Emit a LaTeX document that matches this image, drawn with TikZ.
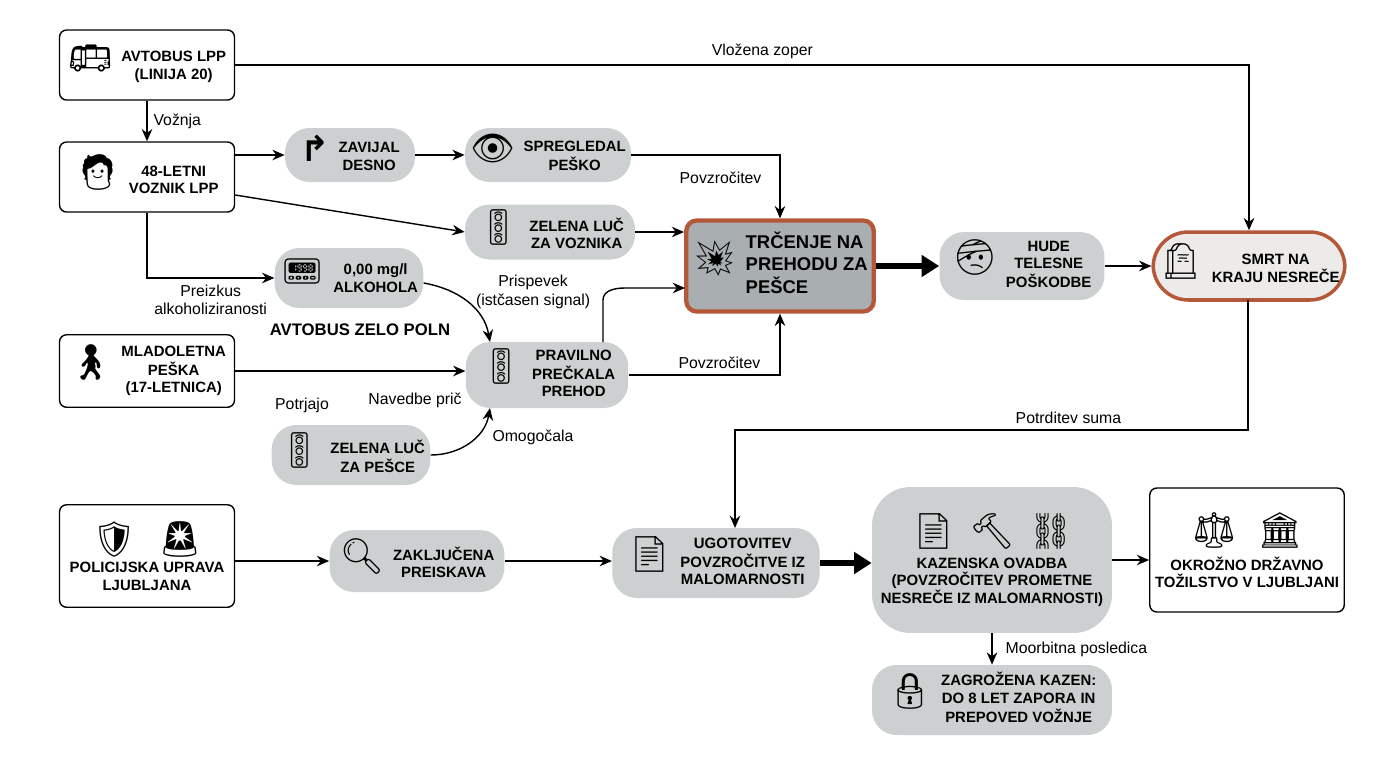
\documentclass[tikz,border=0pt]{standalone}
\usepackage{fontspec}
\setmainfont{Liberation Sans}
\newfontfamily\emo{Noto Emoji}
\newfontfamily\dejavu{DejaVu Sans}
\usetikzlibrary{arrows.meta}
\definecolor{pillgray}{HTML}{CDD0D0}
\definecolor{hitgray}{HTML}{A9AFB0}
\definecolor{rust}{HTML}{B5583A}
\definecolor{paleg}{HTML}{EDEBEA}
\newcommand{\ico}[1]{{\emo\fontsize{20}{20}\selectfont #1}}
\newcommand{\lbl}[2]{\ico{#1}\hspace{5pt}\begin{tabular}{@{}c@{}}#2\end{tabular}}
\newcommand{\lbll}[2]{\ico{#1}\hspace{5pt}\begin{tabular}{@{}l@{}}#2\end{tabular}}
\tikzset{
  pill/.style={fill=pillgray, rounded corners=14pt, inner sep=3pt, font=\bfseries\fontsize{8.5}{10}\selectfont},
  wbox/.style={draw=black, thick, fill=white, rounded corners=4pt, inner sep=3pt, font=\bfseries\fontsize{8.5}{10}\selectfont},
  lab/.style={font=\fontsize{9}{10.5}\selectfont, align=center},
  arr/.style={-{Stealth[length=7pt,width=6pt]}, thick},
  fat/.style={-{Triangle[length=10pt,width=12pt]}, line width=3.5pt}
}
\begin{document}
\begin{tikzpicture}[x=0.02cm, y=-0.02cm]
\useasboundingbox (0,0) rectangle (1376,768);
% sources
\node [wbox, minimum width=3.5cm, minimum height=1.4cm] (bus) at (147,65) {\lbl{🚌}{AVTOBUS LPP\\(LINIJA 20)}};
\node [wbox, minimum width=3.5cm, minimum height=1.4cm] (driver) at (147,177) {\lbl{🧑}{48-LETNI\\VOZNIK LPP}};
\node [wbox, minimum width=3.5cm, minimum height=1.45cm] (peska) at (147,371) {\lbl{🚶}{MLADOLETNA\\PEŠKA\\(17-LETNICA)}};
\node [wbox, minimum width=3.5cm, minimum height=2.05cm, align=center] (police) at (147,556) {\ico{🛡}\hspace{12pt}\ico{🚨}\\[2pt] POLICIJSKA UPRAVA\\LJUBLJANA};
% driver branch
\node [pill, minimum width=2.6cm, minimum height=1.08cm] (turn) at (350,155) {{\dejavu\fontsize{20}{20}\selectfont ↱}\hspace{5pt}\begin{tabular}{@{}c@{}}ZAVIJAL\\DESNO\end{tabular}};
\node [pill, minimum width=3.3cm, minimum height=1.08cm] (miss) at (548,155) {\lbl{👁}{SPREGLEDAL\\PEŠKO}};
\node [pill, minimum width=3.4cm, minimum height=1.1cm] (greend) at (550,232) {\lbl{🚦}{ZELENA LUČ\\ZA VOZNIKA}};
\node [pill, minimum width=2.85cm, minimum height=1.2cm] (alco) at (349,278) {\lbl{📟}{0,00 mg/l\\ALKOHOLA}};
\node [font=\bfseries\fontsize{9.5}{11}\selectfont] (full) at (360,330) {AVTOBUS ZELO POLN};
\node [pill, minimum width=3.25cm, minimum height=1.32cm] (cross) at (547,375) {\lbl{🚦}{PRAVILNO\\PREČKALA\\PREHOD}};
\node [pill, minimum width=3.05cm, minimum height=1.2cm] (greenp) at (351,455) {\lbl{🚦}{ZELENA LUČ\\ZA PEŠCE}};
% crash and outcome
\node [draw=rust, line width=2.5pt, fill=hitgray, rounded corners=6pt, minimum width=3.75cm, minimum height=1.82cm, font=\bfseries\fontsize{10.5}{12.5}\selectfont] (crash) at (780,266) {\lbll{💥}{TRČENJE NA\\PREHODU ZA\\PEŠCE}};
\node [pill, minimum width=3.3cm, minimum height=1.36cm] (injury) at (1022,266) {\lbl{🤕}{HUDE\\TELESNE\\POŠKODBE}};
\node [pill, fill=paleg, draw=rust, line width=2pt, rounded corners=20pt, minimum width=3.55cm, minimum height=1.36cm] (death) at (1249,266) {\lbl{🪦}{SMRT NA\\KRAJU NESREČE}};
% procedure
\node [pill, minimum width=3.5cm, minimum height=1.24cm] (probe) at (417,561) {\lbl{🔍}{ZAKLJUČENA\\PREISKAVA}};
\node [pill, minimum width=4.15cm, minimum height=1.4cm] (guilt) at (716,563) {\lbl{📄}{UGOTOVITEV\\POVZROČITVE IZ\\MALOMARNOSTI}};
\node [pill, rounded corners=22pt, minimum width=4.8cm, minimum height=2.92cm, align=center] (charge) at (992,560) {\ico{📄}\hspace{8pt}\ico{🔨}\hspace{8pt}\ico{⛓}\\[4pt] KAZENSKA OVADBA\\(POVZROČITEV PROMETNE\\NESREČE IZ MALOMARNOSTI)};
\node [wbox, minimum width=3.55cm, minimum height=2.48cm, align=center] (court) at (1247,550) {\ico{⚖}\hspace{12pt}\ico{🏛}\\[4pt] OKROŽNO DRŽAVNO\\TOŽILSTVO V LJUBLJANI};
\node [pill, minimum width=4.8cm, minimum height=1.4cm] (penalty) at (992,700) {\lbl{🔒}{ZAGROŽENA KAZEN:\\DO 8 LET ZAPORA IN\\PREPOVED VOŽNJE}};
% connectors
\draw [arr] (bus.east) -| node [lab, pos=0.26, above] {Vložena zoper} (death.north);
\draw [arr] (bus) -- node [lab, right] {Vožnja} (driver);
\draw [arr] (driver.east |- turn) -- (turn);
\draw [arr] (turn) -- (miss);
\draw [arr] (miss.east) -| node [lab, pos=0.3, below=6pt] {Povzročitev} (crash.north);
\draw [arr] (driver.east) ++(0,18) -- (greend.west);
\draw [arr] (greend.east) -- (greend.east -| crash.west);
\draw [arr] (driver.south) |- node [lab, pos=0.75, below, align=center] {Preizkus\\alkoholiziranosti} (alco.west);
\draw [arr] (alco.east) ++(0,5) to [out=-10, in=100] node [lab, right=10pt, pos=0.3] {Prispevek\\(istčasen signal)} (490,342);
\draw [arr] (peska.east) -- (peska.east -| cross.west);
\draw [arr] (603,342) -- (603,300) to [out=90, in=180] (625,288) -- (685,288);
\draw [arr] (cross.east) -| node [lab, pos=0.3, above] {Povzročitev} (crash.south);
\draw [arr] (greenp.east) to [out=0, in=-100] node [lab, right=6pt, pos=0.6] {Omogočala} (490,408);
\node [lab] (potr) at (302,405) {Potrjajo};
\node [lab] (prica) at (415,400) {Navedbe prič};
\draw [fat] (crash.east) -- (injury.west);
\draw [arr] (injury.east) -- (death.west);
\draw [arr] (1248,300) -- (1248,430) -- node [lab, pos=0.35, above] {Potrditev suma} (735,430) -- (735,528);
\draw [arr] (police.east |- probe) -- (probe.west);
\draw [arr] (probe.east) -- (probe.east -| guilt.west);
\draw [fat] (guilt.east) -- (guilt.east -| charge.west);
\draw [arr] (charge.east) -- (charge.east -| court.west);
\draw [arr] (charge.south) -- node [lab, right=4pt] {Moorbitna posledica} (penalty.north);
\end{tikzpicture}
\end{document}
